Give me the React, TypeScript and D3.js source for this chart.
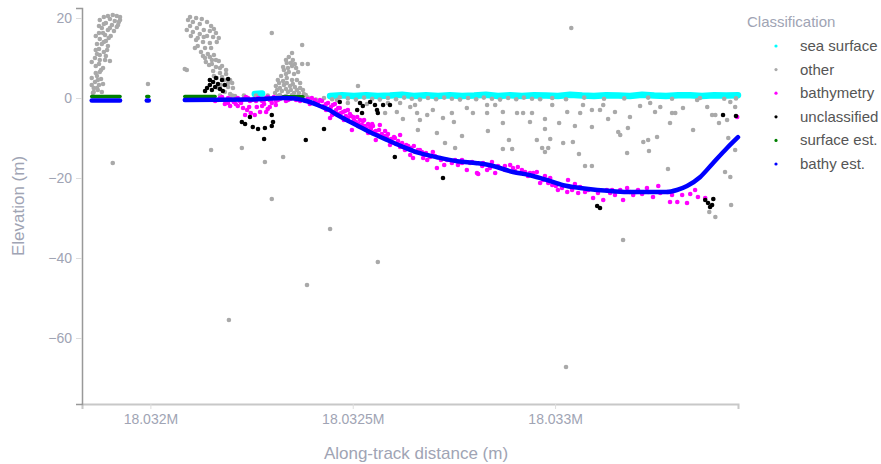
import React, { useEffect, useRef } from 'react';
import * as d3 from 'd3';

type Pt = [number, number];

// classification legend
const classes = ['sea surface', 'other', 'bathymetry', 'unclassified', 'surface est.', 'bathy est.'];
const classColors = ['#00ffff', '#a9a9a9', '#ff00ff', '#000000', '#008000', '#0000ff'];

const xTicks = [18032000, 18032500, 18033000];
const yTicks = [20, 0, -20, -40, -60];

// [along-track distance (m), elevation (m)]
const seaSurface: Pt[][] = [
  [[18032258, 1.0], [18032276, 1.1]],
  [[18032444, 0.5], [18032473, 0.7], [18032503, 0.5], [18032533, 0.7], [18032562, 0.5], [18032592, 0.6], [18032622, 0.8],
   [18032651, 0.5], [18032681, 0.7], [18032711, 0.5], [18032740, 0.7], [18032770, 0.5], [18032800, 0.6], [18032829, 0.8],
   [18032859, 0.5], [18032889, 0.7], [18032918, 0.5], [18032948, 0.7], [18032978, 0.6], [18033007, 0.5], [18033037, 0.8],
   [18033067, 0.6], [18033096, 0.5], [18033126, 0.7], [18033156, 0.6], [18033185, 0.5], [18033215, 0.8], [18033245, 0.6],
   [18033274, 0.5], [18033304, 0.7], [18033334, 0.7], [18033363, 0.5], [18033393, 0.7], [18033423, 0.6], [18033452, 0.7]],
];

const other: Pt[] = [
  // canopy plume 1
  [18031907, 20.75], [18031917, 20.5], [18031925, 20.25], [18031900, 19.75], [18031912, 19.25], [18031922, 19], [18031890, 18.75],
  [18031905, 18.25], [18031917, 17.75], [18031880, 17.5], [18031895, 17], [18031910, 16.75], [18031873, 16.25], [18031888, 15.75],
  [18031902, 15.5], [18031875, 14.75], [18031890, 14.25], [18031880, 13.5], [18031895, 13], [18031873, 12.25], [18031885, 11.5],
  [18031875, 10.75], [18031863, 10], [18031875, 9.5], [18031888, 9.5], [18031900, 9.25], [18031873, 8.5], [18031883, 7.5],
  [18031875, 6.5], [18031868, 5.5], [18031878, 4.75], [18031863, 4], [18031873, 3.25], [18031860, 2.5], [18031870, 2],
  [18031880, 1.5], [18031858, 1.25],
  [18031875, 19.5], [18031885, 20.25], [18031895, 20.5], [18031885, 18.5], [18031873, 18], [18031900, 17.5], [18031920, 18.25],
  [18031925, 19.5], [18031865, 15.5], [18031883, 16.25], [18031897, 15], [18031868, 13.5], [18031885, 14], [18031865, 12],
  [18031893, 12], [18031868, 11], [18031890, 10.5], [18031855, 9], [18031865, 8], [18031878, 7], [18031865, 6.25],
  [18031855, 5], [18031870, 4.5], [18031883, 3.5], [18031855, 3.25], [18031868, 2.5], [18031860, 1.5],
  // plume 2
  [18032098, 20.25], [18032113, 20], [18032105, 19], [18032122, 18.5], [18032098, 18], [18032115, 17.5], [18032132, 17],
  [18032147, 16.75], [18032162, 16.25], [18032105, 16.5], [18032122, 16], [18032140, 15.5], [18032155, 15.25], [18032169, 15],
  [18032113, 14.5], [18032130, 14], [18032147, 13.75], [18032117, 13], [18032135, 12.5], [18032125, 11.5], [18032142, 11],
  [18032157, 10.75], [18032135, 10], [18032152, 9.5], [18032169, 9.25], [18032145, 8.25], [18032162, 7.75], [18032177, 8],
  [18032155, 6.75], [18032172, 6.25], [18032187, 6], [18032164, 5], [18032182, 4.5], [18032197, 4.5], [18032174, 3.25],
  [18032192, 2.75], [18032202, 3.75], [18032090, 7], [18032184, 1.5], [18032197, 1], [18032209, 0.5],
  [18032093, 19.5], [18032127, 19.75], [18032140, 19], [18032150, 18], [18032157, 17.25], [18032090, 17], [18032100, 15.5],
  [18032117, 15], [18032132, 15.25], [18032164, 14], [18032150, 12.5], [18032110, 12.5], [18032130, 10.5], [18032147, 10.25],
  [18032162, 9.5], [18032152, 8.5], [18032137, 9], [18032172, 7.5], [18032187, 7], [18032157, 5.5], [18032177, 5.25],
  [18032192, 3.75], [18032167, 2.5], [18032204, 2.5],
  // plume 3
  [18032350, 11.25], [18032342, 10.25], [18032352, 9.5], [18032337, 8.75], [18032350, 8], [18032360, 7.5], [18032330, 7],
  [18032342, 6.5], [18032355, 6], [18032323, 5.5], [18032337, 5], [18032350, 4.5], [18032362, 4.5], [18032318, 3.75],
  [18032330, 3.25], [18032345, 3], [18032357, 2.75], [18032370, 2.5], [18032313, 2], [18032325, 1.75], [18032340, 1.5],
  [18032355, 1.25], [18032367, 1.25], [18032379, 1], [18032375, 8.5], [18032389, 8.5], [18032375, 13.25], [18032320, 0.75],
  [18032335, 0.5], [18032350, 0.75],
  [18032335, 9.5], [18032347, 8.75], [18032357, 8.5], [18032328, 7.75], [18032340, 7.5], [18032365, 6.5], [18032335, 6],
  [18032315, 4.5], [18032328, 4.25], [18032370, 3.75], [18032310, 3], [18032337, 3.75], [18032352, 3.5], [18032320, 2.5],
  [18032335, 2.25], [18032362, 2], [18032377, 2], [18032308, 1.25], [18032347, 2], [18032384, 0.75], [18032315, 0.5],
  [18032365, 0.5],
  // outliers
  [18031907, -16.25], [18031994, 3.5], [18032085, 7.25], [18032150, -13], [18032226, -12.5], [18032283, -16], [18032300, -25.25],
  [18032300, 16.25], [18032328, -14.75], [18032444, -32.75], [18032194, -55.5], [18032387, -46.75], [18032562, -41],
  [18033027, -67.25], [18033040, 17.5], [18033168, -35.5], [18032513, 3],
  // water column
  [18032461, -0.5], [18032488, -1.25], [18032535, -1.5], [18032587, -1.25], [18032580, -3.75], [18032609, -3.5], [18032617, -1.25],
  [18032624, -5.25], [18032642, -2.25], [18032654, -1.75], [18032659, -3.75], [18032666, -5.5], [18032661, -8], [18032684, -4.25],
  [18032698, -3], [18032708, -8.75], [18032723, -5], [18032728, -11.25], [18032745, -3.75], [18032750, -6], [18032753, -12.5],
  [18032770, -9.5], [18032782, -2.5], [18032797, -3.75], [18032832, -1.75], [18032832, -3.75], [18032834, -8.25], [18032852, -1.75],
  [18032871, -3.5], [18032871, -6.25], [18032871, -12.75], [18032886, -10.5], [18032894, -12.75], [18032906, -3.75], [18032921, -3.75],
  [18032938, -6], [18032943, -3.75], [18032975, -5.25], [18032975, -7.75], [18032975, -13.5], [18032993, -1.75], [18033010, -6.25],
  [18033030, -3.5], [18033049, -7], [18033062, -3.75], [18033069, -1.75], [18033091, -3], [18033091, -7.25], [18033091, -17],
  [18033111, -3], [18033119, -1.75], [18033131, -5.25], [18033148, -3.5], [18033156, -8.5], [18033161, -9.25], [18033180, -7.5],
  [18033185, -4.75], [18033210, -2], [18033235, -1.25], [18033247, -3.5], [18033260, -2.25], [18033284, -6.25], [18033289, -3.75],
  [18033297, -3.75], [18033316, -2.5], [18033341, -8], [18033351, -0.5], [18033376, -2.25], [18033388, -4.25], [18033396, -4.25],
  [18033405, -6.25], [18033425, -5.5], [18033428, -10], [18033433, -1], [18033433, -19.75], [18033445, -2.25], [18033445, -13],
  [18032955, -10.5], [18032968, -12.5], [18032983, -12.5], [18032988, -10.25], [18033020, -11.25], [18033044, -11], [18033059, -14],
  [18033074, -17], [18033178, -13.75], [18033218, -11], [18033230, -10.5], [18033232, -13.25], [18033252, -9.75], [18033279, -17.75],
  [18033420, -18.5], [18033435, -26.75], [18033381, -28.5], [18033396, -29.75],
  // along the surface
  [18032172, 0.6], [18032202, 0.6], [18032231, 0.6], [18032261, 0.6], [18032290, 0.6], [18032320, 0.6],
  [18032370, -0.2], [18032389, 0.1], [18032409, -0.4], [18032429, 0], [18032449, -0.3], [18032468, 0.2], [18032488, -0.1],
  [18032508, -0.4], [18032528, 0.1], [18032548, -0.2], [18032567, -0.4], [18032587, 0], [18032607, -0.3], [18032627, 0.1],
  [18032646, -0.2], [18032666, -0.4], [18032686, 0], [18032706, -0.3], [18032726, 0.1], [18032745, -0.2], [18032765, -0.4],
  [18032785, 0], [18032805, -0.3], [18032824, 0.1], [18032844, -0.2], [18032864, -0.4], [18032884, 0], [18032904, -0.3],
  [18032923, 0.1], [18032943, -0.2], [18032963, -0.3], [18032993, 0], [18033027, -0.3], [18033072, 0.1], [18033121, -0.2],
  [18033171, -0.1], [18033230, 0.1], [18033289, -0.2], [18033358, 0], [18033418, -0.2], [18033447, -0.1],
];

const bathymetry: Pt[] = [
  [18032155, 0], [18032167, -0.5], [18032177, 0.25], [18032187, -0.75], [18032197, -0.25], [18032206, -1], [18032216, 0],
  [18032226, -0.5], [18032236, 0.25], [18032246, -0.75], [18032256, -0.25], [18032266, 0], [18032276, -0.75], [18032286, 0],
  [18032295, -0.5], [18032305, 0.25], [18032315, -0.5], [18032325, 0], [18032335, -0.75], [18032345, -0.25], [18032360, -0.5],
  [18032370, -0.75],
  [18032160, -0.75], [18032172, 0], [18032182, -0.5], [18032192, 0], [18032202, -0.5], [18032211, -0.25], [18032221, -0.75],
  [18032231, -0.25], [18032241, 0], [18032251, -0.5], [18032261, -0.75], [18032271, -0.25], [18032281, -0.5], [18032290, 0.25],
  [18032300, -0.25], [18032310, -0.75], [18032320, -0.25], [18032330, 0.25], [18032340, -0.5], [18032350, 0], [18032365, -0.25],
  [18032184, -1.5], [18032197, -2], [18032211, -1.5], [18032224, -1.25], [18032239, -3], [18032248, -3.75], [18032263, -2.25],
  [18032271, -3.5], [18032281, -1.5], [18032290, -2.75], [18032300, -1.25], [18032310, -1.75], [18032234, -4.25], [18032258, -4.25],
  [18032192, -1.25], [18032216, -2], [18032229, -2.5], [18032244, -2.25], [18032276, -2], [18032286, -3.5], [18032295, -2.25],
  [18032382, -0.75], [18032394, -1.5], [18032407, -0.5], [18032419, -0.5], [18032429, -2], [18032439, -1.25], [18032444, -5],
  [18032449, -4.25], [18032451, -1.75], [18032459, -3], [18032468, -2.5], [18032476, -3.5], [18032483, -4.5], [18032493, -4],
  [18032498, -8], [18032501, -4.75], [18032508, -6], [18032518, -5.5], [18032523, -6.75], [18032533, -7.5], [18032543, -7.25],
  [18032553, -8.5], [18032562, -9.25], [18032567, -6.75], [18032575, -9.75], [18032585, -10], [18032597, -11], [18032607, -11.5],
  [18032617, -9.25], [18032617, -12.25], [18032629, -13], [18032642, -14.25], [18032654, -13.5], [18032674, -15], [18032691, -14.75],
  [18032708, -17.5], [18032718, -15.5], [18032733, -15.5], [18032745, -16.25], [18032760, -16.75], [18032782, -18], [18032795, -16],
  [18032807, -18.75], [18032810, -19], [18032822, -16.25], [18032832, -18], [18032844, -16], [18032852, -18.75], [18032864, -17.5],
  [18032876, -17], [18032889, -16.75], [18032896, -17.5], [18032908, -17.25], [18032918, -18], [18032938, -18.75], [18032946, -18.75],
  [18032955, -18.5], [18032963, -21.25], [18032975, -19.5], [18032988, -20], [18032993, -21.75], [18033007, -23], [18033030, -23.5],
  [18033032, -20.5], [18033049, -21.5], [18033062, -22.25], [18033082, -23], [18033094, -25], [18033119, -25.5], [18033128, -23],
  [18033148, -24.25], [18033161, -23], [18033168, -25.5], [18033178, -22.5], [18033185, -23.5], [18033193, -24.25], [18033205, -23],
  [18033227, -22.5], [18033230, -23.5], [18033242, -24.75], [18033255, -22], [18033277, -23.5], [18033284, -26], [18033302, -26],
  [18033314, -24.25], [18033326, -26.25], [18033353, -24.75], [18033371, -25], [18033450, -4.75],
  [18032414, -1.25], [18032434, -3], [18032464, -4], [18032478, -5.5], [18032488, -3], [18032513, -7], [18032528, -5.5],
  [18032538, -8.75], [18032548, -6.5], [18032557, -10.5], [18032580, -8.25], [18032592, -11.75], [18032604, -10], [18032637, -12],
  [18032649, -15], [18032666, -13], [18032684, -15.5], [18032698, -13.5], [18032726, -16.75], [18032770, -15.5],
  [18032375, 0.25], [18032389, -0.25], [18032399, 0], [18032409, -1.25], [18032424, -0.75], [18032434, -1.5], [18032446, -2.25],
  [18032456, -1.5], [18032464, -2.5], [18032471, -3.75], [18032481, -3.25], [18032488, -5], [18032496, -4.5], [18032503, -5.5],
  [18032511, -4.75], [18032515, -6.5], [18032525, -5.75], [18032530, -7], [18032538, -6.5], [18032545, -7.75], [18032550, -7],
  [18032557, -8.25], [18032565, -8], [18032572, -9], [18032580, -9.5], [18032587, -9], [18032595, -10.25], [18032602, -9.75],
  [18032612, -10.75], [18032622, -11.25], [18032632, -11.75], [18032644, -12.5], [18032651, -12], [18032661, -13], [18032671, -13.5],
  [18032681, -13.75], [18032703, -14.5], [18032716, -15], [18032753, -15.5], [18032770, -16.25], [18032790, -16.25], [18032820, -17],
  [18032839, -17.5], [18032859, -17], [18032876, -18], [18032901, -18.25], [18032926, -18.5], [18032933, -19.5], [18032970, -20.5],
  [18032983, -21.25], [18033002, -22], [18033017, -22.5], [18033042, -23], [18033057, -23.75], [18033074, -23.5], [18033106, -23.75],
  [18033136, -23.75], [18033141, -23], [18033200, -23.5], [18033215, -24], [18033260, -23.75], [18033289, -24.25], [18033334, -24],
  [18033346, -23],
];

const unclassified: Pt[] = [
  [18032140, 2.5], [18032147, 3.25], [18032152, 2], [18032155, 4], [18032160, 2.75], [18032167, 3.5], [18032172, 2.25],
  [18032177, 4.5], [18032184, 3.25], [18032192, 4.75], [18032147, 4.5], [18032162, 5], [18032135, 1.75], [18032179, 1.75],
  [18032226, -6], [18032234, -6.5], [18032246, -4.75], [18032253, -7.25], [18032266, -7.75], [18032283, -7.5], [18032300, -7],
  [18032303, -6], [18032300, -4.25], [18032281, -10.25],
  [18032384, -10.5], [18032429, -7.75], [18032604, -14.75], [18032723, -20],
  [18032468, -1], [18032511, -3], [18032518, -1.25], [18032523, -3.75], [18032525, -2], [18032543, -1], [18032555, -1.75],
  [18032560, -3], [18032562, -3.75], [18032575, -1.75], [18032592, -1.75],
  [18033104, -27], [18033111, -27.5], [18033371, -25.5], [18033378, -26.25], [18033388, -26.75], [18033391, -25.25],
  [18033383, -27.25], [18033415, -4.25], [18033447, -4.5],
];

const surfaceEst: Pt[][] = [
  [[18031855, 0.4], [18031925, 0.4]],
  [[18031991, 0.4], [18031996, 0.4]],
  [[18032085, 0.4], [18032160, 0.4]],
  [[18032328, 0.3], [18032377, 0.3]],
];

const bathyEst: Pt[][] = [
  [[18031855, -0.6], [18031925, -0.6]],
  [[18031991, -0.6], [18031996, -0.6]],
  [[18032085, -0.5], [18032246, -0.4], [18032295, -0.1], [18032332, 0], [18032357, -0.1], [18032377, -0.5], [18032394, -1],
   [18032419, -2], [18032444, -3.1], [18032461, -4.2], [18032481, -5.3], [18032510, -6.8], [18032542, -8.5], [18032585, -10.5],
   [18032624, -12.2], [18032666, -13.8], [18032708, -14.8], [18032758, -15.8], [18032807, -16.3], [18032839, -16.8],
   [18032896, -18.5], [18032938, -19.3], [18032980, -20.5], [18033020, -21.8], [18033062, -22.5], [18033104, -23],
   [18033143, -23.3], [18033185, -23.5], [18033227, -23.5], [18033276, -23.5], [18033301, -23], [18033326, -22],
   [18033358, -19.8], [18033390, -16.3], [18033425, -12.5], [18033452, -9.8]],
];

const W = 881;
const H = 464;
const margin = { top: 8, right: 143, bottom: 60, left: 82 };
const font = '"Liberation Sans", Arial, sans-serif';
const mutedText = '#a0a4b4';

const App = () => {
  const xAxisRef = useRef<SVGGElement>(null);
  const yAxisRef = useRef<SVGGElement>(null);

  const x = d3.scaleLinear().domain([18031831, 18033452]).range([margin.left, W - margin.right]);
  const y = d3.scaleLinear().domain([-76.5, 22.5]).range([H - margin.bottom, margin.top]);

  const smooth = d3.line<Pt>().x(d => x(d[0])).y(d => y(d[1])).curve(d3.curveMonotoneX);
  const jagged = d3.line<Pt>().x(d => x(d[0])).y(d => y(d[1]));

  useEffect(() => {
    const fmt = d3.format('~s');
    const gx = d3.select(xAxisRef.current!);
    gx.call(d3.axisBottom(x).tickValues(xTicks).tickFormat(d => fmt(d as number)).tickSize(5).tickPadding(5));
    gx.select('.domain').attr('stroke', '#c8c8c8').attr('stroke-width', 2);
    gx.selectAll('.tick line').attr('stroke', '#dddddd');
    gx.selectAll('.tick text').attr('fill', mutedText).style('font-size', '14px').style('font-family', font);

    const gy = d3.select(yAxisRef.current!);
    gy.call(d3.axisLeft(y).tickValues(yTicks).tickSize(6).tickPadding(4));
    gy.select('.domain').attr('stroke', '#999999').attr('stroke-width', 1.5);
    gy.selectAll('.tick line').attr('stroke', '#dddddd');
    gy.selectAll('.tick text').attr('fill', mutedText).style('font-size', '14px').style('font-family', font);
  }, []);

  const dots = (data: Pt[], color: string) =>
    data.map((d, i) => <circle key={i} cx={x(d[0])} cy={y(d[1])} r={2.3} fill={color} />);

  const bands = (data: Pt[][], color: string, w: number, gen = smooth) =>
    data.map((seg, i) => (
      <path key={i} d={gen(seg) || ''} fill="none" stroke={color} strokeWidth={w}
        strokeLinecap="round" strokeLinejoin="round" />
    ));

  return (
    <svg width={W} height={H} style={{ position: 'absolute', left: 0, top: 0, background: '#fff' }}>
      <g>{bands(seaSurface, classColors[0], 6.5, jagged)}</g>
      <g>{dots(other, classColors[1])}</g>
      <g>{dots(bathymetry, classColors[2])}</g>
      <g>{dots(unclassified, classColors[3])}</g>
      <g>{bands(surfaceEst, classColors[4], 3.5)}</g>
      <g>{bands(bathyEst, classColors[5], 4.5)}</g>

      <g ref={xAxisRef} transform={`translate(0,${H - margin.bottom})`} />
      <g ref={yAxisRef} transform={`translate(${margin.left},0)`} />

      <text x={416} y={459} textAnchor="middle" fill={mutedText} style={{ fontSize: 17, fontFamily: font }}>
        Along-track distance (m)
      </text>
      <text transform={`translate(24,${(margin.top + H - margin.bottom) / 2}) rotate(-90)`} textAnchor="middle"
        fill={mutedText} style={{ fontSize: 17, fontFamily: font }}>
        Elevation (m)
      </text>

      <g>
        <text x={747} y={27} fill={mutedText} style={{ fontSize: 15, fontFamily: font }}>Classification</text>
        {classes.map((c, i) => (
          <g key={c} transform={`translate(0,${46 + i * 23.6})`}>
            <circle cx={776} cy={0} r={1.6} fill={classColors[i]} />
            <text x={800} y={5} fill="#555555" style={{ fontSize: 15, fontFamily: font }}>{c}</text>
          </g>
        ))}
      </g>
    </svg>
  );
};

export default App;
